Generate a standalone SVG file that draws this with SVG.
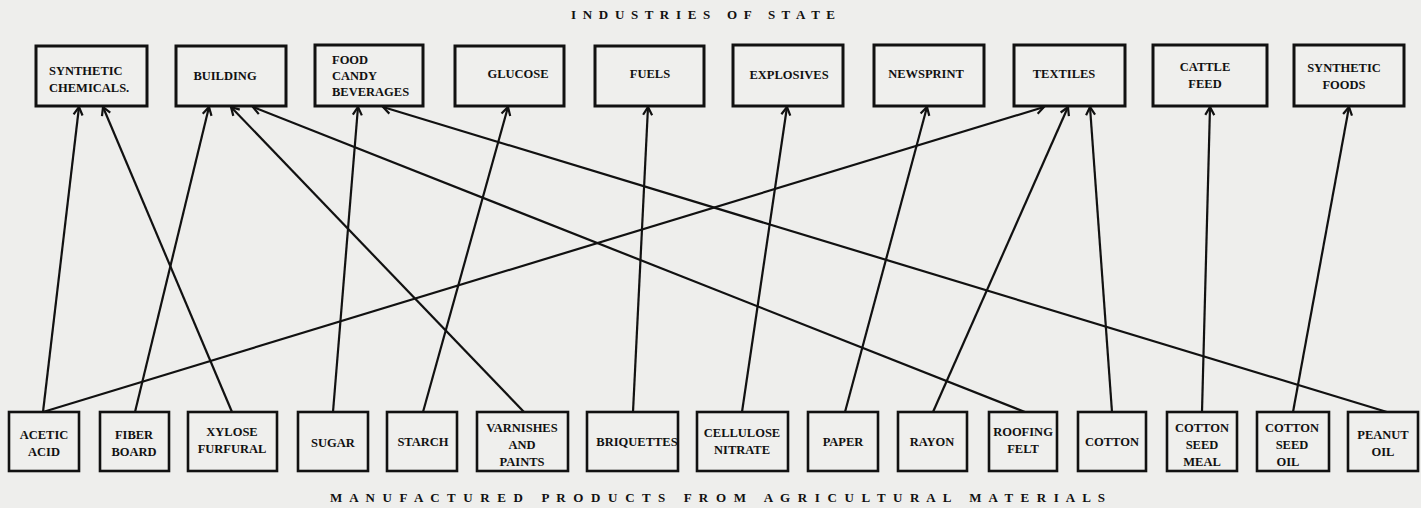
<svg xmlns="http://www.w3.org/2000/svg" width="1421" height="508" viewBox="0 0 1421 508">
<defs>
<style>
.bg{fill:#eeeeec}
.box{fill:#efefed;stroke:#111;stroke-width:3}
.bbox{fill:#efefed;stroke:#111;stroke-width:2.6}
.t{font-family:"Liberation Serif",serif;font-weight:bold;font-size:12.5px;fill:#111}
.c{text-anchor:middle}
.title{font-family:"Liberation Serif",serif;font-weight:bold;font-size:13px;fill:#111;white-space:pre}
.ln{stroke:#111;stroke-width:2.2;fill:none;marker-end:url(#ah)}
</style>
<marker id="ah" markerUnits="userSpaceOnUse" markerWidth="14" markerHeight="14" refX="10" refY="6" orient="auto" viewBox="0 0 14 12">
<path d="M2,1.5 L10,6 L2,10.5" fill="none" stroke="#111" stroke-width="2.2"/>
</marker>
</defs>
<rect class="bg" x="0" y="0" width="1421" height="508"/>
<text class="title" x="571" y="19" xml:space="preserve" textLength="264" lengthAdjust="spacing">I N D U S T R I E S   O F   S T A T E</text>
<text class="title" x="330" y="502" xml:space="preserve" textLength="775" lengthAdjust="spacing">M A N U F A C T U R E D   P R O D U C T S   F R O M   A G R I C U L T U R A L   M A T E R I A L S</text>

<g id="connectors">
<line class="ln" x1="43" y1="412" x2="79" y2="107"/>
<line class="ln" x1="232" y1="412" x2="103" y2="107"/>
<line class="ln" x1="135" y1="412" x2="209" y2="107"/>
<line class="ln" x1="524" y1="412" x2="231" y2="107"/>
<line class="ln" x1="1025" y1="412" x2="253" y2="107"/>
<line class="ln" x1="333" y1="412" x2="358" y2="107"/>
<line class="ln" x1="1387" y1="412" x2="383" y2="107"/>
<line class="ln" x1="423" y1="412" x2="508" y2="107"/>
<line class="ln" x1="633" y1="412" x2="648" y2="107"/>
<line class="ln" x1="742" y1="412" x2="787" y2="107"/>
<line class="ln" x1="845" y1="412" x2="927" y2="107"/>
<line class="ln" x1="43" y1="412" x2="1044" y2="107"/>
<line class="ln" x1="933" y1="412" x2="1068" y2="107"/>
<line class="ln" x1="1112" y1="412" x2="1090" y2="107"/>
<line class="ln" x1="1202" y1="412" x2="1210" y2="107"/>
<line class="ln" x1="1293" y1="412" x2="1349" y2="107"/>
</g>

<g id="synthetic-chemicals"><rect class="box" x="36" y="46" width="111" height="60"/><text class="t" x="49" y="75">SYNTHETIC</text><text class="t" x="49" y="92">CHEMICALS.</text></g>
<g id="building"><rect class="box" x="176" y="46" width="110" height="60"/><text class="t c" x="225" y="80">BUILDING</text></g>
<g id="food"><rect class="box" x="315" y="45" width="108" height="61"/><text class="t" x="332" y="64">FOOD</text><text class="t" x="332" y="80">CANDY</text><text class="t" x="332" y="96">BEVERAGES</text></g>
<g id="glucose"><rect class="box" x="455" y="46" width="109" height="60"/><text class="t c" x="518" y="78">GLUCOSE</text></g>
<g id="fuels"><rect class="box" x="595" y="46" width="109" height="60"/><text class="t c" x="650" y="78">FUELS</text></g>
<g id="explosives"><rect class="box" x="733" y="45" width="110" height="61"/><text class="t c" x="789" y="79">EXPLOSIVES</text></g>
<g id="newsprint"><rect class="box" x="874" y="45" width="110" height="61"/><text class="t c" x="926" y="78">NEWSPRINT</text></g>
<g id="textiles"><rect class="box" x="1014" y="45" width="111" height="61"/><text class="t c" x="1064" y="78">TEXTILES</text></g>
<g id="cattle-feed"><rect class="box" x="1153" y="45" width="114" height="61"/><text class="t c" x="1205" y="71">CATTLE</text><text class="t c" x="1205" y="88">FEED</text></g>
<g id="synthetic-foods"><rect class="box" x="1294" y="45" width="110" height="61"/><text class="t c" x="1344" y="72">SYNTHETIC</text><text class="t c" x="1344" y="89">FOODS</text></g>

<g id="acetic-acid"><rect class="bbox" x="9" y="412" width="70" height="59"/><text class="t c" x="44" y="439">ACETIC</text><text class="t c" x="44" y="456">ACID</text></g>
<g id="fiber-board"><rect class="bbox" x="100" y="412" width="69" height="59"/><text class="t c" x="134" y="439">FIBER</text><text class="t c" x="134" y="456">BOARD</text></g>
<g id="xylose-furfural"><rect class="bbox" x="188" y="412" width="89" height="59"/><text class="t c" x="232" y="436">XYLOSE</text><text class="t c" x="232" y="453">FURFURAL</text></g>
<g id="sugar"><rect class="bbox" x="298" y="412" width="70" height="59"/><text class="t c" x="333" y="447">SUGAR</text></g>
<g id="starch"><rect class="bbox" x="387" y="412" width="70" height="59"/><text class="t c" x="423" y="446">STARCH</text></g>
<g id="varnishes"><rect class="bbox" x="477" y="412" width="91" height="59"/><text class="t c" x="522" y="432">VARNISHES</text><text class="t c" x="522" y="449">AND</text><text class="t c" x="522" y="466">PAINTS</text></g>
<g id="briquettes"><rect class="bbox" x="587" y="412" width="91" height="59"/><text class="t c" x="637" y="446">BRIQUETTES</text></g>
<g id="cellulose-nitrate"><rect class="bbox" x="697" y="412" width="91" height="59"/><text class="t c" x="742" y="437">CELLULOSE</text><text class="t c" x="742" y="454">NITRATE</text></g>
<g id="paper"><rect class="bbox" x="808" y="412" width="70" height="59"/><text class="t c" x="843" y="446">PAPER</text></g>
<g id="rayon"><rect class="bbox" x="898" y="412" width="69" height="59"/><text class="t c" x="932" y="446">RAYON</text></g>
<g id="roofing-felt"><rect class="bbox" x="989" y="412" width="68" height="59"/><text class="t c" x="1023" y="436">ROOFING</text><text class="t c" x="1023" y="453">FELT</text></g>
<g id="cotton"><rect class="bbox" x="1078" y="412" width="68" height="59"/><text class="t c" x="1112" y="446">COTTON</text></g>
<g id="cotton-seed-meal"><rect class="bbox" x="1167" y="412" width="70" height="59"/><text class="t c" x="1202" y="432">COTTON</text><text class="t c" x="1202" y="449">SEED</text><text class="t c" x="1202" y="466">MEAL</text></g>
<g id="cotton-seed-oil"><rect class="bbox" x="1257" y="412" width="72" height="59"/><text class="t c" x="1292" y="432">COTTON</text><text class="t c" x="1292" y="449">SEED</text><text class="t c" x="1288" y="466">OIL</text></g>
<g id="peanut-oil"><rect class="bbox" x="1348" y="412" width="70" height="59"/><text class="t c" x="1383" y="439">PEANUT</text><text class="t c" x="1383" y="456">OIL</text></g>
</svg>
